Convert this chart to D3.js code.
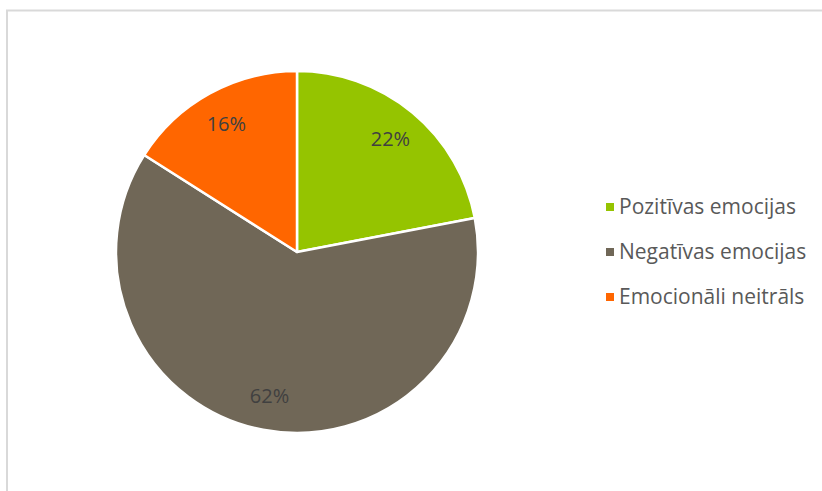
<!DOCTYPE html>
<html><head><meta charset="utf-8">
<script src="https://cdn.jsdelivr.net/npm/d3@7"></script>
<style>body{margin:0;background:#fff}svg{display:block}</style>
</head><body>
<script>
const categories = ["Pozitīvas emocijas", "Negatīvas emocijas", "Emocionāli neitrāls"];
const values = [22, 62, 16];
const colors = ["#95c400", "#706757", "#ff6600"];

const W = 822, H = 491;
const svg = d3.select("body").append("svg").attr("width", W).attr("height", H);

// chart frame
svg.append("path").attr("d", `M7,${H}V10.5H${W}`).attr("fill","none").attr("stroke","#d9d9d9").attr("stroke-width",2);

const cx = 297, cy = 252, R = 181;
const g = svg.append("g").attr("transform", `translate(${cx},${cy})`);
const pie = d3.pie().sort(null).value(d => d)(values);
const arc = d3.arc().innerRadius(0).outerRadius(R);
const labelArc = d3.arc().innerRadius(R*0.81).outerRadius(R*0.81);

g.selectAll("path.slice").data(pie).join("path")
  .attr("class","slice")
  .attr("d", arc)
  .attr("fill", (d,i) => colors[i])
  .attr("stroke", "#fff").attr("stroke-width", 2.5).attr("stroke-linejoin","round");

const total = d3.sum(values);
g.selectAll("text.lbl").data(pie).join("text")
  .attr("class","lbl")
  .attr("transform", d => { const c = labelArc.centroid(d); return `translate(${c[0]},${c[1]})`; })
  .attr("text-anchor","middle").attr("dy","0.35em")
  .attr("font-family","'Open Sans', sans-serif").attr("font-size",20)
  .attr("fill","#404040")
  .text(d => Math.round(d.data/total*100) + "%");

const leg = svg.append("g").attr("transform","translate(606,207)");
const rowY = d3.scalePoint().domain(categories).range([0, 90]);
const item = leg.selectAll("g").data(categories).join("g")
  .attr("transform", d => `translate(0,${rowY(d)})`);
item.append("rect").attr("x",0).attr("y",-4).attr("width",8).attr("height",8)
  .attr("fill",(d,i)=>colors[i]);
item.append("text").attr("x",13).attr("dy","0.35em")
  .attr("font-family","'Open Sans', sans-serif").attr("font-size",21)
  .attr("fill","#595959").text(d=>d);
</script>
</body></html>
